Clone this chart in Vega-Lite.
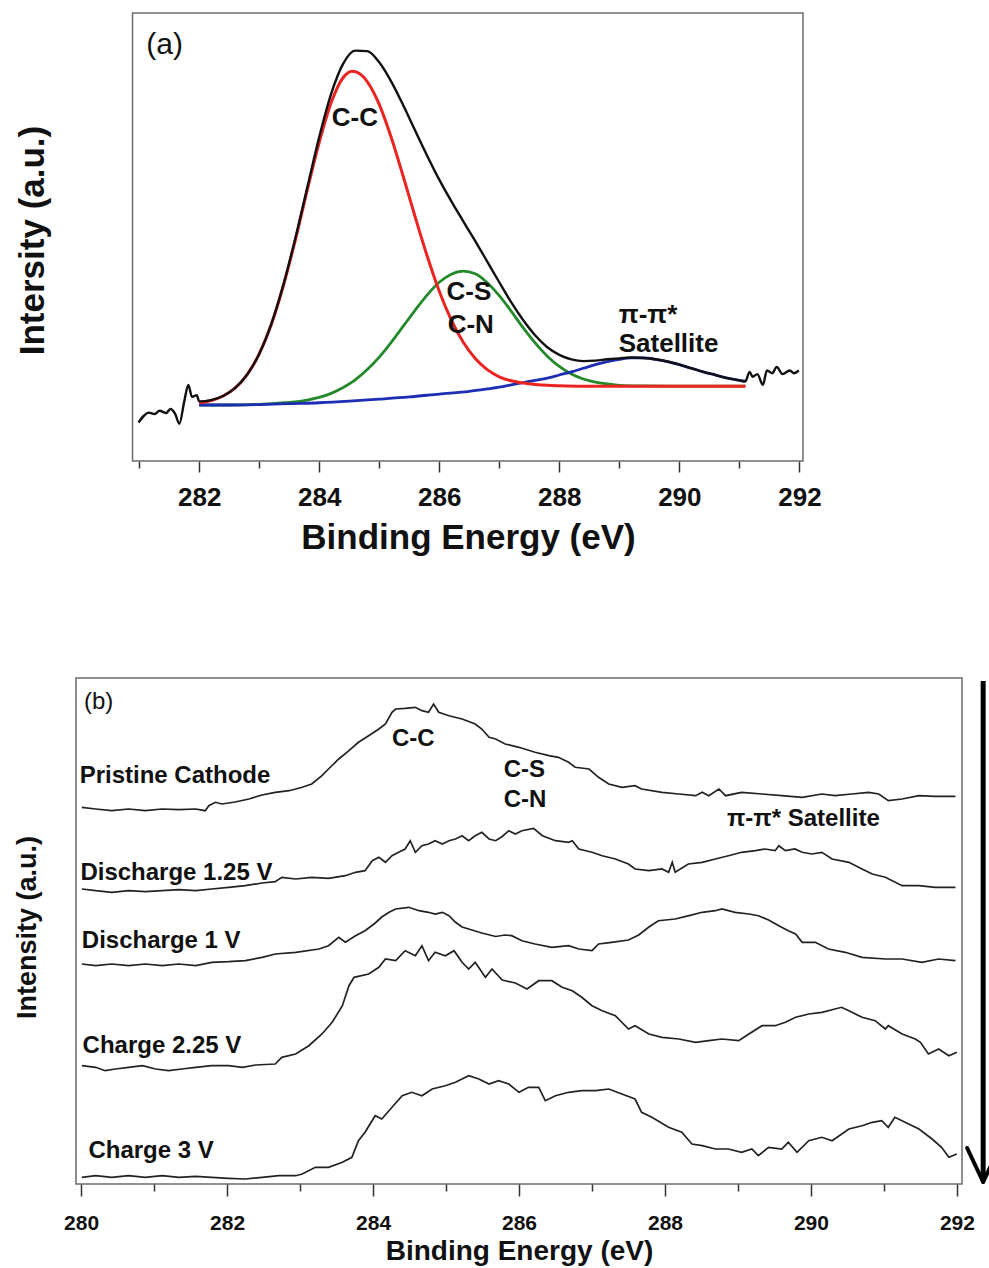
{
  "$schema": "https://vega.github.io/schema/vega-lite/v6.json",
  "background": "white",
  "padding": {"left": 12, "top": 12, "right": 0, "bottom": 0},
  "columns": 1,
  "bounds": "full",
  "spacing": 122,
  "config": {
    "font": "Liberation Sans",
    "view": {"stroke": "#6b6b6b", "strokeWidth": 1.5},
    "axis": {"grid": false, "domain": false, "tickColor": "#333333", "tickWidth": 1.5, "labelColor": "#111111", "titleColor": "#111111", "labelFont": "Liberation Sans", "titleFont": "Liberation Sans", "labelOverlap": false, "labelFlush": false}
  },
  "datasets": {
    "fit": [
      {"s": "env", "e": 280.99, "v": 8.6}, {"s": "env", "e": 281.08, "v": 10.1}, {"s": "env", "e": 281.16, "v": 10.8}, {"s": "env", "e": 281.26, "v": 10.5},
      {"s": "env", "e": 281.34, "v": 11.2}, {"s": "env", "e": 281.45, "v": 10.7}, {"s": "env", "e": 281.52, "v": 11.6}, {"s": "env", "e": 281.6, "v": 10.5},
      {"s": "env", "e": 281.67, "v": 8.3}, {"s": "env", "e": 281.75, "v": 13.2}, {"s": "env", "e": 281.82, "v": 17.0}, {"s": "env", "e": 281.88, "v": 14.3},
      {"s": "env", "e": 281.96, "v": 14.7}, {"s": "env", "e": 282.0, "v": 13.3}, {"s": "env", "e": 282.2, "v": 13.6}, {"s": "env", "e": 282.4, "v": 14.5},
      {"s": "env", "e": 282.6, "v": 16.3}, {"s": "env", "e": 282.8, "v": 19.3}, {"s": "env", "e": 283.0, "v": 23.9}, {"s": "env", "e": 283.2, "v": 30.5},
      {"s": "env", "e": 283.4, "v": 39.2}, {"s": "env", "e": 283.6, "v": 49.6}, {"s": "env", "e": 283.8, "v": 61.0}, {"s": "env", "e": 284.0, "v": 72.3},
      {"s": "env", "e": 284.2, "v": 82.0}, {"s": "env", "e": 284.4, "v": 88.7}, {"s": "env", "e": 284.6, "v": 91.6}, {"s": "env", "e": 284.8, "v": 91.5},
      {"s": "env", "e": 285.0, "v": 89.0}, {"s": "env", "e": 285.2, "v": 84.7}, {"s": "env", "e": 285.4, "v": 79.4}, {"s": "env", "e": 285.6, "v": 73.7},
      {"s": "env", "e": 285.8, "v": 68.1}, {"s": "env", "e": 286.0, "v": 62.8}, {"s": "env", "e": 286.2, "v": 58.0}, {"s": "env", "e": 286.4, "v": 53.5},
      {"s": "env", "e": 286.6, "v": 49.1}, {"s": "env", "e": 286.8, "v": 44.5}, {"s": "env", "e": 287.0, "v": 39.9}, {"s": "env", "e": 287.2, "v": 35.4},
      {"s": "env", "e": 287.4, "v": 31.4}, {"s": "env", "e": 287.6, "v": 28.0}, {"s": "env", "e": 287.8, "v": 25.4}, {"s": "env", "e": 288.0, "v": 23.7},
      {"s": "env", "e": 288.2, "v": 22.7}, {"s": "env", "e": 288.4, "v": 22.3}, {"s": "env", "e": 288.6, "v": 22.4}, {"s": "env", "e": 288.8, "v": 22.7},
      {"s": "env", "e": 289.0, "v": 22.9}, {"s": "env", "e": 289.2, "v": 23.1}, {"s": "env", "e": 289.4, "v": 23.0}, {"s": "env", "e": 289.6, "v": 22.7},
      {"s": "env", "e": 289.8, "v": 22.2}, {"s": "env", "e": 290.0, "v": 21.5}, {"s": "env", "e": 290.2, "v": 20.7}, {"s": "env", "e": 290.4, "v": 19.9},
      {"s": "env", "e": 290.6, "v": 19.2}, {"s": "env", "e": 290.8, "v": 18.5}, {"s": "env", "e": 291.0, "v": 18.0}, {"s": "env", "e": 291.1, "v": 17.8},
      {"s": "env", "e": 291.17, "v": 19.9}, {"s": "env", "e": 291.22, "v": 18.8}, {"s": "env", "e": 291.3, "v": 19.4}, {"s": "env", "e": 291.39, "v": 17.0},
      {"s": "env", "e": 291.46, "v": 20.2}, {"s": "env", "e": 291.55, "v": 19.6}, {"s": "env", "e": 291.62, "v": 21.0}, {"s": "env", "e": 291.72, "v": 19.4},
      {"s": "env", "e": 291.84, "v": 20.2}, {"s": "env", "e": 291.91, "v": 19.6}, {"s": "env", "e": 291.99, "v": 20.2},

      {"s": "cc", "e": 282.0, "v": 13.0}, {"s": "cc", "e": 282.2, "v": 13.5}, {"s": "cc", "e": 282.4, "v": 14.5}, {"s": "cc", "e": 282.6, "v": 16.3},
      {"s": "cc", "e": 282.8, "v": 19.3}, {"s": "cc", "e": 283.0, "v": 23.9}, {"s": "cc", "e": 283.2, "v": 30.4}, {"s": "cc", "e": 283.4, "v": 39.0},
      {"s": "cc", "e": 283.6, "v": 49.2}, {"s": "cc", "e": 283.8, "v": 60.4}, {"s": "cc", "e": 284.0, "v": 71.1}, {"s": "cc", "e": 284.2, "v": 80.0},
      {"s": "cc", "e": 284.4, "v": 85.6}, {"s": "cc", "e": 284.55, "v": 87.0}, {"s": "cc", "e": 284.7, "v": 86.2}, {"s": "cc", "e": 284.8, "v": 84.7},
      {"s": "cc", "e": 285.0, "v": 79.6}, {"s": "cc", "e": 285.2, "v": 72.2}, {"s": "cc", "e": 285.4, "v": 63.5}, {"s": "cc", "e": 285.6, "v": 54.4},
      {"s": "cc", "e": 285.8, "v": 45.7}, {"s": "cc", "e": 286.0, "v": 37.9}, {"s": "cc", "e": 286.2, "v": 31.5}, {"s": "cc", "e": 286.4, "v": 26.5},
      {"s": "cc", "e": 286.6, "v": 22.9}, {"s": "cc", "e": 286.8, "v": 20.4}, {"s": "cc", "e": 287.0, "v": 18.8}, {"s": "cc", "e": 287.2, "v": 17.9},
      {"s": "cc", "e": 287.4, "v": 17.4}, {"s": "cc", "e": 287.6, "v": 17.1}, {"s": "cc", "e": 287.8, "v": 16.9}, {"s": "cc", "e": 288.0, "v": 16.8},
      {"s": "cc", "e": 288.4, "v": 16.7}, {"s": "cc", "e": 291.1, "v": 16.7},

      {"s": "cs", "e": 282.0, "v": 12.5}, {"s": "cs", "e": 282.5, "v": 12.5}, {"s": "cs", "e": 283.0, "v": 12.65}, {"s": "cs", "e": 283.4, "v": 13.0},
      {"s": "cs", "e": 283.6, "v": 13.2}, {"s": "cs", "e": 283.8, "v": 13.6}, {"s": "cs", "e": 284.0, "v": 14.2}, {"s": "cs", "e": 284.2, "v": 15.1},
      {"s": "cs", "e": 284.4, "v": 16.4}, {"s": "cs", "e": 284.6, "v": 18.1}, {"s": "cs", "e": 284.8, "v": 20.4}, {"s": "cs", "e": 285.0, "v": 23.2},
      {"s": "cs", "e": 285.2, "v": 26.5}, {"s": "cs", "e": 285.4, "v": 30.1}, {"s": "cs", "e": 285.6, "v": 33.7}, {"s": "cs", "e": 285.8, "v": 37.1},
      {"s": "cs", "e": 286.0, "v": 39.9}, {"s": "cs", "e": 286.2, "v": 41.7}, {"s": "cs", "e": 286.4, "v": 42.4}, {"s": "cs", "e": 286.6, "v": 41.8},
      {"s": "cs", "e": 286.8, "v": 39.8}, {"s": "cs", "e": 287.0, "v": 36.9}, {"s": "cs", "e": 287.2, "v": 33.4}, {"s": "cs", "e": 287.4, "v": 29.7},
      {"s": "cs", "e": 287.6, "v": 26.3}, {"s": "cs", "e": 287.8, "v": 23.4}, {"s": "cs", "e": 288.0, "v": 21.1}, {"s": "cs", "e": 288.2, "v": 19.4},
      {"s": "cs", "e": 288.4, "v": 18.3}, {"s": "cs", "e": 288.6, "v": 17.6}, {"s": "cs", "e": 288.8, "v": 17.2}, {"s": "cs", "e": 289.0, "v": 16.9},
      {"s": "cs", "e": 289.4, "v": 16.75}, {"s": "cs", "e": 289.8, "v": 16.7}, {"s": "cs", "e": 291.1, "v": 16.7},

      {"s": "pi", "e": 282.0, "v": 12.5}, {"s": "pi", "e": 282.5, "v": 12.5}, {"s": "pi", "e": 283.0, "v": 12.6}, {"s": "pi", "e": 283.5, "v": 12.8},
      {"s": "pi", "e": 284.0, "v": 13.0}, {"s": "pi", "e": 284.5, "v": 13.35}, {"s": "pi", "e": 285.0, "v": 13.8}, {"s": "pi", "e": 285.5, "v": 14.3},
      {"s": "pi", "e": 286.0, "v": 14.95}, {"s": "pi", "e": 286.5, "v": 15.55}, {"s": "pi", "e": 286.8, "v": 16.1}, {"s": "pi", "e": 287.0, "v": 16.5},
      {"s": "pi", "e": 287.2, "v": 17.0}, {"s": "pi", "e": 287.4, "v": 17.5}, {"s": "pi", "e": 287.6, "v": 18.0}, {"s": "pi", "e": 287.8, "v": 18.5},
      {"s": "pi", "e": 288.0, "v": 19.2}, {"s": "pi", "e": 288.2, "v": 19.9}, {"s": "pi", "e": 288.4, "v": 20.7}, {"s": "pi", "e": 288.6, "v": 21.5},
      {"s": "pi", "e": 288.8, "v": 22.2}, {"s": "pi", "e": 289.0, "v": 22.7}, {"s": "pi", "e": 289.2, "v": 23.0}, {"s": "pi", "e": 289.4, "v": 23.0},
      {"s": "pi", "e": 289.6, "v": 22.7}, {"s": "pi", "e": 289.8, "v": 22.2}, {"s": "pi", "e": 290.0, "v": 21.5}, {"s": "pi", "e": 290.2, "v": 20.7},
      {"s": "pi", "e": 290.4, "v": 19.9}, {"s": "pi", "e": 290.6, "v": 19.2}, {"s": "pi", "e": 290.8, "v": 18.5}, {"s": "pi", "e": 291.0, "v": 18.0},
      {"s": "pi", "e": 291.1, "v": 17.8}
    ],
    "frameA": [
      {"e": 280.89, "v": 0, "e2": 292.06, "v2": 100}
    ],
    "notesA": [
      {"t": "C-C", "e": 284.21, "v": 76.6},
      {"t": "C-S", "e": 286.12, "v": 37.7},
      {"t": "C-N", "e": 286.14, "v": 30.4},
      {"t": "π-π*", "e": 288.99, "v": 32.6},
      {"t": "Satellite", "e": 288.99, "v": 26.2}
    ],
    "panelTagA": [
      {"t": "(a)", "e": 281.12, "v": 92.9}
    ],
    "spectra": [
      {"s": "P", "e": 280.01, "v": 376.7}, {"s": "P", "e": 280.2, "v": 375}, {"s": "P", "e": 280.42, "v": 373.3}, {"s": "P", "e": 280.65, "v": 375},
      {"s": "P", "e": 280.88, "v": 373.3}, {"s": "P", "e": 281.11, "v": 375}, {"s": "P", "e": 281.34, "v": 374.3}, {"s": "P", "e": 281.57, "v": 375},
      {"s": "P", "e": 281.7, "v": 373.3}, {"s": "P", "e": 281.75, "v": 378.3}, {"s": "P", "e": 281.84, "v": 381.7}, {"s": "P", "e": 281.93, "v": 380},
      {"s": "P", "e": 282.11, "v": 382}, {"s": "P", "e": 282.3, "v": 385}, {"s": "P", "e": 282.48, "v": 389}, {"s": "P", "e": 282.66, "v": 391.7},
      {"s": "P", "e": 282.85, "v": 393.3}, {"s": "P", "e": 283.03, "v": 396.7}, {"s": "P", "e": 283.16, "v": 400}, {"s": "P", "e": 283.3, "v": 408.3},
      {"s": "P", "e": 283.39, "v": 415}, {"s": "P", "e": 283.53, "v": 425}, {"s": "P", "e": 283.67, "v": 433.3}, {"s": "P", "e": 283.8, "v": 441.7},
      {"s": "P", "e": 283.94, "v": 448.3}, {"s": "P", "e": 284.08, "v": 455}, {"s": "P", "e": 284.17, "v": 460}, {"s": "P", "e": 284.26, "v": 471.7},
      {"s": "P", "e": 284.31, "v": 475}, {"s": "P", "e": 284.44, "v": 475.7}, {"s": "P", "e": 284.58, "v": 476.7}, {"s": "P", "e": 284.67, "v": 473.3},
      {"s": "P", "e": 284.76, "v": 471.7}, {"s": "P", "e": 284.83, "v": 480}, {"s": "P", "e": 284.9, "v": 471.7}, {"s": "P", "e": 285.04, "v": 468.3},
      {"s": "P", "e": 285.22, "v": 465}, {"s": "P", "e": 285.4, "v": 460}, {"s": "P", "e": 285.49, "v": 455}, {"s": "P", "e": 285.59, "v": 446.7},
      {"s": "P", "e": 285.68, "v": 445}, {"s": "P", "e": 285.81, "v": 440}, {"s": "P", "e": 286.0, "v": 436.7}, {"s": "P", "e": 286.22, "v": 431.7},
      {"s": "P", "e": 286.41, "v": 428.3}, {"s": "P", "e": 286.54, "v": 426.7}, {"s": "P", "e": 286.68, "v": 421.7}, {"s": "P", "e": 286.77, "v": 416.7},
      {"s": "P", "e": 286.96, "v": 415}, {"s": "P", "e": 287.09, "v": 406.7}, {"s": "P", "e": 287.23, "v": 400}, {"s": "P", "e": 287.41, "v": 396.7},
      {"s": "P", "e": 287.59, "v": 398.3}, {"s": "P", "e": 287.68, "v": 395}, {"s": "P", "e": 287.96, "v": 391.7}, {"s": "P", "e": 288.19, "v": 390},
      {"s": "P", "e": 288.42, "v": 388.3}, {"s": "P", "e": 288.51, "v": 391.7}, {"s": "P", "e": 288.6, "v": 388.3}, {"s": "P", "e": 288.74, "v": 395},
      {"s": "P", "e": 288.83, "v": 388.3}, {"s": "P", "e": 289.05, "v": 391.7}, {"s": "P", "e": 289.33, "v": 390}, {"s": "P", "e": 289.6, "v": 388.3},
      {"s": "P", "e": 289.88, "v": 386.7}, {"s": "P", "e": 290.15, "v": 390}, {"s": "P", "e": 290.33, "v": 388.3}, {"s": "P", "e": 290.56, "v": 390},
      {"s": "P", "e": 290.79, "v": 391.7}, {"s": "P", "e": 290.93, "v": 390}, {"s": "P", "e": 291.06, "v": 383.3}, {"s": "P", "e": 291.25, "v": 385},
      {"s": "P", "e": 291.48, "v": 388.3}, {"s": "P", "e": 291.7, "v": 387.7}, {"s": "P", "e": 291.98, "v": 387.7},

      {"s": "D125", "e": 280.01, "v": 295}, {"s": "D125", "e": 280.2, "v": 293.3}, {"s": "D125", "e": 280.42, "v": 291.7}, {"s": "D125", "e": 280.65, "v": 293.3},
      {"s": "D125", "e": 280.88, "v": 292.3}, {"s": "D125", "e": 281.11, "v": 293.3}, {"s": "D125", "e": 281.34, "v": 294.3}, {"s": "D125", "e": 281.57, "v": 293.3},
      {"s": "D125", "e": 281.79, "v": 295}, {"s": "D125", "e": 282.02, "v": 296.7}, {"s": "D125", "e": 282.25, "v": 298.3}, {"s": "D125", "e": 282.48, "v": 301},
      {"s": "D125", "e": 282.66, "v": 302.3}, {"s": "D125", "e": 282.75, "v": 306.7}, {"s": "D125", "e": 282.94, "v": 305}, {"s": "D125", "e": 283.16, "v": 306.7},
      {"s": "D125", "e": 283.39, "v": 305.7}, {"s": "D125", "e": 283.62, "v": 308.3}, {"s": "D125", "e": 283.76, "v": 311.7}, {"s": "D125", "e": 283.89, "v": 313.3},
      {"s": "D125", "e": 283.99, "v": 323.3}, {"s": "D125", "e": 284.08, "v": 326.7}, {"s": "D125", "e": 284.17, "v": 321.7}, {"s": "D125", "e": 284.26, "v": 328.3},
      {"s": "D125", "e": 284.35, "v": 331.7}, {"s": "D125", "e": 284.44, "v": 335}, {"s": "D125", "e": 284.51, "v": 343.3}, {"s": "D125", "e": 284.58, "v": 331.7},
      {"s": "D125", "e": 284.67, "v": 338.3}, {"s": "D125", "e": 284.76, "v": 340}, {"s": "D125", "e": 284.85, "v": 343.3}, {"s": "D125", "e": 284.95, "v": 340},
      {"s": "D125", "e": 285.04, "v": 343.3}, {"s": "D125", "e": 285.13, "v": 345}, {"s": "D125", "e": 285.22, "v": 348.3}, {"s": "D125", "e": 285.31, "v": 343.3},
      {"s": "D125", "e": 285.4, "v": 348.3}, {"s": "D125", "e": 285.49, "v": 351.7}, {"s": "D125", "e": 285.59, "v": 345}, {"s": "D125", "e": 285.68, "v": 343.3},
      {"s": "D125", "e": 285.77, "v": 347.5}, {"s": "D125", "e": 285.86, "v": 353.3}, {"s": "D125", "e": 285.95, "v": 350}, {"s": "D125", "e": 286.04, "v": 353.3},
      {"s": "D125", "e": 286.2, "v": 355.7}, {"s": "D125", "e": 286.32, "v": 348.3}, {"s": "D125", "e": 286.5, "v": 343.3}, {"s": "D125", "e": 286.68, "v": 341.7},
      {"s": "D125", "e": 286.73, "v": 343.3}, {"s": "D125", "e": 286.82, "v": 335}, {"s": "D125", "e": 287.0, "v": 331.7}, {"s": "D125", "e": 287.14, "v": 328.3},
      {"s": "D125", "e": 287.32, "v": 325}, {"s": "D125", "e": 287.5, "v": 320}, {"s": "D125", "e": 287.59, "v": 315}, {"s": "D125", "e": 287.78, "v": 313.3},
      {"s": "D125", "e": 287.96, "v": 315}, {"s": "D125", "e": 288.05, "v": 311.7}, {"s": "D125", "e": 288.1, "v": 321.7}, {"s": "D125", "e": 288.14, "v": 311.7},
      {"s": "D125", "e": 288.32, "v": 320}, {"s": "D125", "e": 288.51, "v": 321.7}, {"s": "D125", "e": 288.69, "v": 325}, {"s": "D125", "e": 288.87, "v": 328.3},
      {"s": "D125", "e": 289.05, "v": 331.7}, {"s": "D125", "e": 289.24, "v": 333.3}, {"s": "D125", "e": 289.37, "v": 335}, {"s": "D125", "e": 289.51, "v": 333.3},
      {"s": "D125", "e": 289.56, "v": 338.3}, {"s": "D125", "e": 289.65, "v": 333.3}, {"s": "D125", "e": 289.78, "v": 335}, {"s": "D125", "e": 289.88, "v": 331.7},
      {"s": "D125", "e": 290.01, "v": 330}, {"s": "D125", "e": 290.15, "v": 331.7}, {"s": "D125", "e": 290.29, "v": 325}, {"s": "D125", "e": 290.52, "v": 321.7},
      {"s": "D125", "e": 290.7, "v": 315}, {"s": "D125", "e": 290.84, "v": 310}, {"s": "D125", "e": 291.02, "v": 306.7}, {"s": "D125", "e": 291.25, "v": 298.3},
      {"s": "D125", "e": 291.48, "v": 298.3}, {"s": "D125", "e": 291.7, "v": 296.7}, {"s": "D125", "e": 291.98, "v": 296.7},

      {"s": "D1", "e": 280.01, "v": 220}, {"s": "D1", "e": 280.2, "v": 218.3}, {"s": "D1", "e": 280.42, "v": 220}, {"s": "D1", "e": 280.65, "v": 218.3},
      {"s": "D1", "e": 280.88, "v": 220}, {"s": "D1", "e": 281.11, "v": 218.3}, {"s": "D1", "e": 281.34, "v": 220}, {"s": "D1", "e": 281.57, "v": 218.3},
      {"s": "D1", "e": 281.79, "v": 221.7}, {"s": "D1", "e": 282.02, "v": 222.3}, {"s": "D1", "e": 282.25, "v": 223.3}, {"s": "D1", "e": 282.48, "v": 226.7},
      {"s": "D1", "e": 282.66, "v": 230}, {"s": "D1", "e": 282.94, "v": 231.7}, {"s": "D1", "e": 283.26, "v": 235}, {"s": "D1", "e": 283.39, "v": 238.3},
      {"s": "D1", "e": 283.53, "v": 246.7}, {"s": "D1", "e": 283.62, "v": 241.7}, {"s": "D1", "e": 283.76, "v": 248.3}, {"s": "D1", "e": 283.89, "v": 253.3},
      {"s": "D1", "e": 284.03, "v": 261}, {"s": "D1", "e": 284.12, "v": 267}, {"s": "D1", "e": 284.22, "v": 271.7}, {"s": "D1", "e": 284.31, "v": 275},
      {"s": "D1", "e": 284.49, "v": 276.7}, {"s": "D1", "e": 284.63, "v": 273.3}, {"s": "D1", "e": 284.76, "v": 271.7}, {"s": "D1", "e": 284.85, "v": 270},
      {"s": "D1", "e": 284.95, "v": 271.7}, {"s": "D1", "e": 285.04, "v": 268.3}, {"s": "D1", "e": 285.13, "v": 261.7}, {"s": "D1", "e": 285.22, "v": 257},
      {"s": "D1", "e": 285.31, "v": 255}, {"s": "D1", "e": 285.49, "v": 251}, {"s": "D1", "e": 285.68, "v": 247.5}, {"s": "D1", "e": 285.81, "v": 249},
      {"s": "D1", "e": 285.9, "v": 248.3}, {"s": "D1", "e": 286.04, "v": 243.3}, {"s": "D1", "e": 286.22, "v": 240}, {"s": "D1", "e": 286.45, "v": 236.7},
      {"s": "D1", "e": 286.68, "v": 238.3}, {"s": "D1", "e": 286.82, "v": 235}, {"s": "D1", "e": 287.0, "v": 233.3}, {"s": "D1", "e": 287.09, "v": 240},
      {"s": "D1", "e": 287.27, "v": 241.7}, {"s": "D1", "e": 287.5, "v": 244}, {"s": "D1", "e": 287.64, "v": 249}, {"s": "D1", "e": 287.78, "v": 257},
      {"s": "D1", "e": 287.91, "v": 263.3}, {"s": "D1", "e": 288.14, "v": 265}, {"s": "D1", "e": 288.33, "v": 268.3}, {"s": "D1", "e": 288.51, "v": 271.7},
      {"s": "D1", "e": 288.69, "v": 273.3}, {"s": "D1", "e": 288.78, "v": 275}, {"s": "D1", "e": 288.96, "v": 271.7}, {"s": "D1", "e": 289.15, "v": 270},
      {"s": "D1", "e": 289.28, "v": 268.3}, {"s": "D1", "e": 289.42, "v": 264}, {"s": "D1", "e": 289.56, "v": 258.3}, {"s": "D1", "e": 289.69, "v": 253.3},
      {"s": "D1", "e": 289.79, "v": 250}, {"s": "D1", "e": 289.88, "v": 241.7}, {"s": "D1", "e": 290.06, "v": 241.7}, {"s": "D1", "e": 290.24, "v": 235},
      {"s": "D1", "e": 290.47, "v": 231.7}, {"s": "D1", "e": 290.7, "v": 226.7}, {"s": "D1", "e": 291.02, "v": 225}, {"s": "D1", "e": 291.25, "v": 225},
      {"s": "D1", "e": 291.52, "v": 221.7}, {"s": "D1", "e": 291.75, "v": 225}, {"s": "D1", "e": 291.98, "v": 223.3},

      {"s": "C225", "e": 280.01, "v": 118.3}, {"s": "C225", "e": 280.2, "v": 116.7}, {"s": "C225", "e": 280.33, "v": 113.3}, {"s": "C225", "e": 280.47, "v": 115},
      {"s": "C225", "e": 280.65, "v": 116.7}, {"s": "C225", "e": 280.84, "v": 118.3}, {"s": "C225", "e": 281.02, "v": 115}, {"s": "C225", "e": 281.2, "v": 113.3},
      {"s": "C225", "e": 281.38, "v": 115}, {"s": "C225", "e": 281.57, "v": 116.7}, {"s": "C225", "e": 281.79, "v": 118.3}, {"s": "C225", "e": 282.02, "v": 118.3},
      {"s": "C225", "e": 282.21, "v": 116.7}, {"s": "C225", "e": 282.39, "v": 119}, {"s": "C225", "e": 282.66, "v": 120}, {"s": "C225", "e": 282.75, "v": 126.7},
      {"s": "C225", "e": 282.94, "v": 130}, {"s": "C225", "e": 283.12, "v": 138.3}, {"s": "C225", "e": 283.3, "v": 150}, {"s": "C225", "e": 283.44, "v": 161.7},
      {"s": "C225", "e": 283.58, "v": 178.3}, {"s": "C225", "e": 283.67, "v": 198.3}, {"s": "C225", "e": 283.74, "v": 206.7}, {"s": "C225", "e": 283.94, "v": 210},
      {"s": "C225", "e": 284.08, "v": 216.7}, {"s": "C225", "e": 284.17, "v": 225}, {"s": "C225", "e": 284.31, "v": 223.3}, {"s": "C225", "e": 284.44, "v": 233.3},
      {"s": "C225", "e": 284.58, "v": 228.3}, {"s": "C225", "e": 284.67, "v": 238.3}, {"s": "C225", "e": 284.76, "v": 223.3}, {"s": "C225", "e": 284.85, "v": 231.7},
      {"s": "C225", "e": 284.99, "v": 228.3}, {"s": "C225", "e": 285.11, "v": 233.3}, {"s": "C225", "e": 285.22, "v": 221.7}, {"s": "C225", "e": 285.31, "v": 215},
      {"s": "C225", "e": 285.4, "v": 221.7}, {"s": "C225", "e": 285.54, "v": 206.7}, {"s": "C225", "e": 285.63, "v": 215}, {"s": "C225", "e": 285.77, "v": 204},
      {"s": "C225", "e": 285.95, "v": 201}, {"s": "C225", "e": 286.11, "v": 195}, {"s": "C225", "e": 286.27, "v": 203.3}, {"s": "C225", "e": 286.45, "v": 203.3},
      {"s": "C225", "e": 286.59, "v": 196.7}, {"s": "C225", "e": 286.73, "v": 193.3}, {"s": "C225", "e": 286.86, "v": 186.7}, {"s": "C225", "e": 287.0, "v": 178.3},
      {"s": "C225", "e": 287.14, "v": 173.3}, {"s": "C225", "e": 287.32, "v": 168.3}, {"s": "C225", "e": 287.5, "v": 155}, {"s": "C225", "e": 287.59, "v": 158.3},
      {"s": "C225", "e": 287.78, "v": 150}, {"s": "C225", "e": 287.96, "v": 146.7}, {"s": "C225", "e": 288.19, "v": 145}, {"s": "C225", "e": 288.42, "v": 141.7},
      {"s": "C225", "e": 288.6, "v": 143.3}, {"s": "C225", "e": 288.78, "v": 145}, {"s": "C225", "e": 289.01, "v": 143.3}, {"s": "C225", "e": 289.15, "v": 150},
      {"s": "C225", "e": 289.33, "v": 158.3}, {"s": "C225", "e": 289.51, "v": 158.3}, {"s": "C225", "e": 289.65, "v": 161.7}, {"s": "C225", "e": 289.79, "v": 166.7},
      {"s": "C225", "e": 289.97, "v": 170}, {"s": "C225", "e": 290.15, "v": 171.7}, {"s": "C225", "e": 290.33, "v": 175}, {"s": "C225", "e": 290.42, "v": 176.7},
      {"s": "C225", "e": 290.52, "v": 173.3}, {"s": "C225", "e": 290.7, "v": 166.7}, {"s": "C225", "e": 290.88, "v": 163.3}, {"s": "C225", "e": 291.02, "v": 155},
      {"s": "C225", "e": 291.06, "v": 158.3}, {"s": "C225", "e": 291.25, "v": 150}, {"s": "C225", "e": 291.43, "v": 145}, {"s": "C225", "e": 291.5, "v": 141.7},
      {"s": "C225", "e": 291.61, "v": 130}, {"s": "C225", "e": 291.75, "v": 135}, {"s": "C225", "e": 291.89, "v": 128.3}, {"s": "C225", "e": 292.0, "v": 131.7},

      {"s": "C3", "e": 280.01, "v": 6.7}, {"s": "C3", "e": 280.2, "v": 8.3}, {"s": "C3", "e": 280.42, "v": 6.7}, {"s": "C3", "e": 280.65, "v": 8.3},
      {"s": "C3", "e": 280.88, "v": 6.7}, {"s": "C3", "e": 281.11, "v": 8.3}, {"s": "C3", "e": 281.34, "v": 6.7}, {"s": "C3", "e": 281.57, "v": 7.7},
      {"s": "C3", "e": 281.79, "v": 6.7}, {"s": "C3", "e": 282.02, "v": 5.7}, {"s": "C3", "e": 282.25, "v": 5}, {"s": "C3", "e": 282.48, "v": 6.7},
      {"s": "C3", "e": 282.71, "v": 8.3}, {"s": "C3", "e": 282.94, "v": 8.3}, {"s": "C3", "e": 283.03, "v": 10}, {"s": "C3", "e": 283.21, "v": 16.7},
      {"s": "C3", "e": 283.39, "v": 16.7}, {"s": "C3", "e": 283.58, "v": 21.7}, {"s": "C3", "e": 283.71, "v": 26.7}, {"s": "C3", "e": 283.8, "v": 43.3},
      {"s": "C3", "e": 283.89, "v": 51.7}, {"s": "C3", "e": 284.03, "v": 68.3}, {"s": "C3", "e": 284.12, "v": 65}, {"s": "C3", "e": 284.26, "v": 76.7},
      {"s": "C3", "e": 284.4, "v": 88.3}, {"s": "C3", "e": 284.53, "v": 91.7}, {"s": "C3", "e": 284.67, "v": 88.3}, {"s": "C3", "e": 284.81, "v": 95},
      {"s": "C3", "e": 284.99, "v": 98.3}, {"s": "C3", "e": 285.13, "v": 101.7}, {"s": "C3", "e": 285.31, "v": 108.3}, {"s": "C3", "e": 285.45, "v": 105},
      {"s": "C3", "e": 285.59, "v": 100}, {"s": "C3", "e": 285.72, "v": 103.3}, {"s": "C3", "e": 285.86, "v": 100}, {"s": "C3", "e": 286.0, "v": 91.7},
      {"s": "C3", "e": 286.13, "v": 96.7}, {"s": "C3", "e": 286.27, "v": 96.7}, {"s": "C3", "e": 286.36, "v": 83.3}, {"s": "C3", "e": 286.5, "v": 88.3},
      {"s": "C3", "e": 286.68, "v": 91.7}, {"s": "C3", "e": 286.86, "v": 93.3}, {"s": "C3", "e": 287.05, "v": 93.3}, {"s": "C3", "e": 287.23, "v": 95},
      {"s": "C3", "e": 287.41, "v": 90}, {"s": "C3", "e": 287.59, "v": 85}, {"s": "C3", "e": 287.68, "v": 71.7}, {"s": "C3", "e": 287.82, "v": 66.7},
      {"s": "C3", "e": 288.05, "v": 56.7}, {"s": "C3", "e": 288.23, "v": 51.7}, {"s": "C3", "e": 288.37, "v": 40}, {"s": "C3", "e": 288.51, "v": 38.3},
      {"s": "C3", "e": 288.69, "v": 35}, {"s": "C3", "e": 288.87, "v": 35}, {"s": "C3", "e": 289.05, "v": 31.7}, {"s": "C3", "e": 289.19, "v": 35},
      {"s": "C3", "e": 289.28, "v": 28.3}, {"s": "C3", "e": 289.42, "v": 36.7}, {"s": "C3", "e": 289.6, "v": 35}, {"s": "C3", "e": 289.69, "v": 41.7},
      {"s": "C3", "e": 289.81, "v": 31.7}, {"s": "C3", "e": 289.97, "v": 43.3}, {"s": "C3", "e": 290.15, "v": 46.7}, {"s": "C3", "e": 290.29, "v": 43.3},
      {"s": "C3", "e": 290.52, "v": 55}, {"s": "C3", "e": 290.7, "v": 58.3}, {"s": "C3", "e": 290.84, "v": 61.7}, {"s": "C3", "e": 290.97, "v": 63.3},
      {"s": "C3", "e": 291.06, "v": 56.7}, {"s": "C3", "e": 291.15, "v": 66.7}, {"s": "C3", "e": 291.29, "v": 61.7}, {"s": "C3", "e": 291.48, "v": 55},
      {"s": "C3", "e": 291.66, "v": 45}, {"s": "C3", "e": 291.79, "v": 36.7}, {"s": "C3", "e": 291.89, "v": 26.7}, {"s": "C3", "e": 292.0, "v": 30}
    ],
    "notesB": [
      {"t": "C-C", "e": 284.26, "v": 445},
      {"t": "C-S", "e": 285.79, "v": 414.3},
      {"t": "C-N", "e": 285.79, "v": 384.2},
      {"t": "π-π* Satellite", "e": 288.85, "v": 365},
      {"t": "Pristine Cathode", "e": 279.98, "v": 407.7},
      {"t": "Discharge 1.25 V", "e": 279.99, "v": 311.3},
      {"t": "Discharge 1 V", "e": 280.01, "v": 242.7},
      {"t": "Charge 2.25 V", "e": 280.02, "v": 137.7},
      {"t": "Charge 3 V", "e": 280.1, "v": 32.7}
    ],
    "panelTagB": [
      {"t": "(b)", "e": 280.04, "v": 482}
    ],
    "arrowB": [
      {"part": "shaft", "e": 292.36, "v": 503, "e2": 292.36, "v2": 3},
      {"part": "left head", "e": 292.14, "v": 36, "e2": 292.36, "v2": 2},
      {"part": "right head", "e": 292.58, "v": 36, "e2": 292.36, "v2": 2}
    ]
  },
  "concat": [
    {
      "width": 727,
      "height": 448,
      "view": {"stroke": null},
      "encoding": {
        "x": {
          "field": "e", "type": "quantitative",
          "scale": {"domain": [279.948, 292.06], "nice": false, "zero": false},
          "axis": {
            "values": [281, 282, 283, 284, 285, 286, 287, 288, 289, 290, 291, 292],
            "labelExpr": "datum.value % 2 === 0 ? datum.label : ''",
            "tickSize": {"condition": {"test": "datum.value % 2 === 0", "value": 11}, "value": 7},
            "labelFontSize": 26, "labelFontWeight": "bold", "labelPadding": 12,
            "title": "Binding Energy (eV)", "titleFontSize": 35, "titleFontWeight": "bold", "titlePadding": 10,
            "titleX": 392, "titleAlign": "center"
          }
        },
        "y": {
          "field": "v", "type": "quantitative",
          "scale": {"domain": [0, 100], "nice": false, "zero": false},
          "axis": {
            "labels": false, "ticks": false, "domain": false,
            "title": "Intersity (a.u.)", "titleFontSize": 35, "titleFontWeight": "bold",
            "titleAngle": 270, "titleBaseline": "middle", "titleAlign": "center", "titleX": -44, "titleY": 227
          }
        }
      },
      "layer": [
        {"data": {"name": "frameA"}, "mark": {"type": "rect", "fill": null, "stroke": "#6b6b6b", "strokeWidth": 1.5}, "encoding": {"x2": {"field": "e2"}, "y2": {"field": "v2"}}},
        {"data": {"name": "fit"}, "transform": [{"filter": "datum.s === 'cs'"}], "mark": {"type": "line", "color": "#23892b", "strokeWidth": 2.8, "interpolate": "monotone"}},
        {"data": {"name": "fit"}, "transform": [{"filter": "datum.s === 'pi'"}], "mark": {"type": "line", "color": "#1d2db4", "strokeWidth": 2.8, "interpolate": "monotone"}},
        {"data": {"name": "fit"}, "transform": [{"filter": "datum.s === 'cc'"}], "mark": {"type": "line", "color": "#ec2420", "strokeWidth": 3, "interpolate": "monotone"}},
        {"data": {"name": "fit"}, "transform": [{"filter": "datum.s === 'env'"}], "mark": {"type": "line", "color": "#111111", "strokeWidth": 2.4, "interpolate": "monotone"}},
        {"data": {"name": "notesA"}, "mark": {"type": "text", "align": "left", "baseline": "middle", "fontSize": 26, "fontWeight": "bold", "color": "#111111"}, "encoding": {"text": {"field": "t"}}},
        {"data": {"name": "panelTagA"}, "mark": {"type": "text", "align": "left", "baseline": "middle", "fontSize": 30, "color": "#111111"}, "encoding": {"text": {"field": "t"}}}
      ]
    },
    {
      "width": 886,
      "height": 506,
      "encoding": {
        "x": {
          "field": "e", "type": "quantitative",
          "scale": {"domain": [279.93, 292.07], "nice": false, "zero": false},
          "axis": {
            "values": [280, 281, 282, 283, 284, 285, 286, 287, 288, 289, 290, 291, 292],
            "labelExpr": "datum.value % 2 === 0 ? datum.label : ''",
            "tickSize": {"condition": {"test": "datum.value % 2 === 0", "value": 12}, "value": 7},
            "labelFontSize": 21, "labelFontWeight": "bold", "labelPadding": 16,
            "title": "Binding Energy (eV)", "titleFontSize": 28, "titleFontWeight": "bold", "titlePadding": 4
          }
        },
        "y": {
          "field": "v", "type": "quantitative",
          "scale": {"domain": [0, 506], "nice": false, "zero": false},
          "axis": {
            "labels": false, "ticks": false, "domain": false,
            "title": "Intensity (a.u.)", "titleFontSize": 27, "titleFontWeight": "bold",
            "titleAngle": 270, "titleBaseline": "middle", "titleAlign": "center", "titleX": -49, "titleY": 249
          }
        }
      },
      "layer": [
        {"data": {"name": "spectra"}, "mark": {"type": "line", "color": "#222222", "strokeWidth": 1.7}, "encoding": {"detail": {"field": "s"}}},
        {"data": {"name": "notesB"}, "mark": {"type": "text", "align": "left", "baseline": "middle", "fontSize": 24, "fontWeight": "bold", "color": "#111111"}, "encoding": {"text": {"field": "t"}}},
        {"data": {"name": "panelTagB"}, "mark": {"type": "text", "align": "left", "baseline": "middle", "fontSize": 24, "color": "#111111"}, "encoding": {"text": {"field": "t"}}},
        {"data": {"name": "arrowB"}, "transform": [{"filter": "datum.part === 'shaft'"}], "mark": {"type": "rule", "color": "#000000", "strokeWidth": 5, "strokeCap": "butt"}, "encoding": {"x2": {"field": "e2"}, "y2": {"field": "v2"}}},
        {"data": {"name": "arrowB"}, "transform": [{"filter": "datum.part !== 'shaft'"}], "mark": {"type": "rule", "color": "#000000", "strokeWidth": 4, "strokeCap": "round"}, "encoding": {"x2": {"field": "e2"}, "y2": {"field": "v2"}, "detail": {"field": "part"}}}
      ]
    }
  ]
}
